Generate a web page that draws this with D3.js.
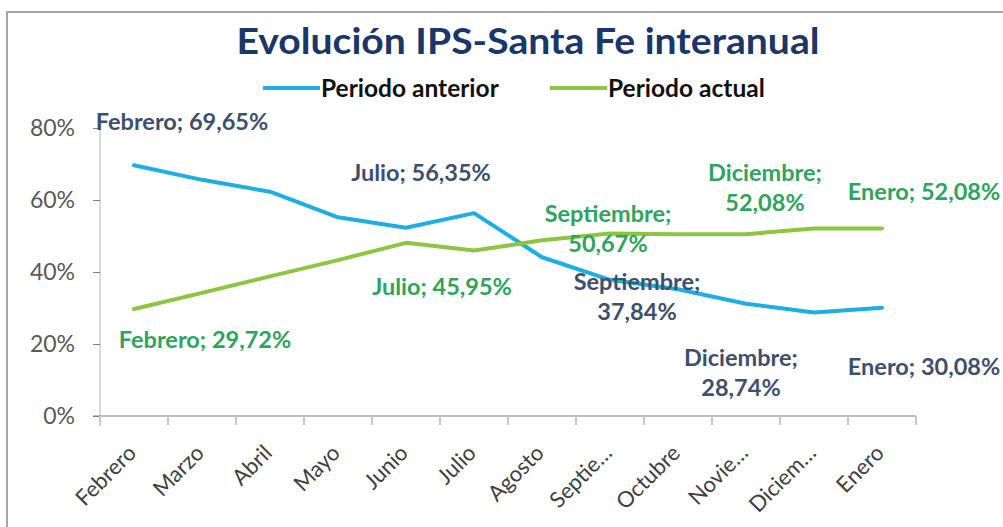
<!DOCTYPE html>
<style>
body { margin: 0; background: #fff; }
text { font-family: Lato, "Open Sans", sans-serif; }
</style>
<svg id="chart" width="1003" height="527"></svg>
<script src="https://d3js.org/d3.v7.min.js"></script>
<script>

var months = ["Febrero", "Marzo", "Abril", "Mayo", "Junio", "Julio", "Agosto", "Septiembre", "Octubre", "Noviembre", "Diciembre", "Enero"];
var tickNames = ["Febrero", "Marzo", "Abril", "Mayo", "Junio", "Julio", "Agosto", "Septie…", "Octubre", "Novie…", "Diciem…", "Enero"];
var anterior = [69.65, 65.6, 62.3, 55.2, 52.3, 56.35, 44.1, 37.84, 35.2, 31.2, 28.74, 30.08];
var actual = [29.72, 34.2, 38.8, 43.3, 48.1, 45.95, 48.8, 50.67, 50.5, 50.5, 52.08, 52.08];
var yTicks = [0, 20, 40, 60, 80];
var seriesNames = ["Periodo anterior", "Periodo actual"];
// which points carry a data label
var labelled = ["Febrero", "Julio", "Septiembre", "Diciembre", "Enero"];

var svg = d3.select("#chart");
var margin = {left: 100, top: 128, right: 87, bottom: 111};
var width = 1003 - margin.left - margin.right;
var height = 527 - margin.top - margin.bottom;

// chart border
svg.append("rect")
  .attr("x", 7).attr("y", 12)
  .attr("width", 1010).attr("height", 540)
  .attr("fill", "none")
  .attr("stroke", "#a6a6a6")
  .attr("stroke-width", 2);

svg.append("text")
  .attr("x", 528).attr("y", 54)
  .attr("text-anchor", "middle")
  .attr("font-size", 36)
  .attr("font-weight", "bold")
  .attr("fill", "#1b3668")
  .attr("textLength", 583)
  .attr("lengthAdjust", "spacingAndGlyphs")
  .text("Evolución IPS-Santa Fe interanual");

var g = svg.append("g").attr("transform", "translate(" + margin.left + "," + margin.top + ")");

var x = d3.scaleBand().domain(months).range([0, width]);
var y = d3.scaleLinear().domain([0, 80]).range([height, 0]);
var colors = ["#1eaee6", "#8cc641"];
var labelColors = ["#3e4f6e", "#2ea45c"];

// legend
var legendX = [263, 550];
var legend = svg.append("g").selectAll("g")
  .data(seriesNames).enter().append("g")
  .attr("transform", function(d, i) { return "translate(" + legendX[i] + ",88)"; });
legend.append("line")
  .attr("x1", 0).attr("x2", 57)
  .attr("stroke", function(d, i) { return colors[i]; })
  .attr("stroke-width", 4);
legend.append("text")
  .attr("x", 58).attr("dy", "0.36em")
  .attr("font-size", 24.5)
  .attr("font-weight", "bold")
  .attr("fill", "#111")
  .text(function(d) { return d; });

// y axis
var yAxis = g.append("g")
  .call(d3.axisLeft(y).tickValues(yTicks).tickSize(7).tickPadding(18).tickFormat(function(d) { return d + "%"; }));
yAxis.select(".domain").attr("stroke", "#d9d9d9").attr("stroke-width", 2).attr("d", "M0,0V" + (height + 10));
yAxis.selectAll(".tick line").attr("stroke", "#7f7f7f");
yAxis.selectAll(".tick text").attr("font-size", 23).attr("fill", "#595959").style("font-family", "Lato, sans-serif");

// x axis
var xAxis = g.append("g")
  .attr("transform", "translate(0," + height + ")")
  .call(d3.axisBottom(x).tickSize(0).tickFormat(function(d, i) { return tickNames[i]; }));
xAxis.select(".domain").attr("stroke", "#7f7f7f").attr("d", "M-7,0H" + width);
xAxis.selectAll(".tick text")
  .attr("font-size", 22)
  .attr("fill", "#404040")
  .style("font-family", "Lato, sans-serif")
  .attr("text-anchor", "end")
  .attr("y", 0).attr("dy", "0.35em")
  .attr("transform", "translate(-2,33) rotate(-45)");
// tick marks between categories
g.append("g").selectAll("line")
  .data(months.concat(["end"])).enter().append("line")
  .attr("x1", function(d, i) { return i * x.step(); })
  .attr("x2", function(d, i) { return i * x.step(); })
  .attr("y1", height).attr("y2", height + 9)
  .attr("stroke", "#c8c8c8")
  .attr("stroke-width", 2);

var line = d3.line()
  .x(function(d, i) { return x(months[i]) + x.bandwidth() / 2; })
  .y(function(d) { return y(d); });

[anterior, actual].forEach(function(s, k) {
  g.append("path")
    .datum(s)
    .attr("fill", "none")
    .attr("stroke", colors[k])
    .attr("stroke-width", 4)
    .attr("stroke-linejoin", "round")
    .attr("stroke-linecap", "round")
    .attr("d", line);
});

// label offsets from the data point: [dx, dy of first line]
var offsets = [
  {Febrero: [48, -35], Julio: [-53, -32], Septiembre: [27, 10], Diciembre: [-73, 53], Enero: [42, 67]},
  {Febrero: [71, 39], Julio: [-32, 44], Septiembre: [-2, -12], Diciembre: [-49, -48], Enero: [42, -29]}
];
var twoLine = ["Septiembre", "Diciembre"];

[anterior, actual].forEach(function(s, k) {
  labelled.forEach(function(m) {
    var i = months.indexOf(m);
    var px = x(m) + x.bandwidth() / 2;
    var py = y(s[i]);
    var o = offsets[k][m];
    var val = s[i].toFixed(2).replace(".", ",") + "%";
    var t = g.append("text")
      .attr("x", px + o[0]).attr("y", py + o[1])
      .attr("text-anchor", "middle")
      .attr("font-size", 23.5)
      .attr("font-weight", "bold")
      .attr("fill", labelColors[k]);
    if (twoLine.indexOf(m) >= 0) {
      t.append("tspan").attr("x", px + o[0]).text(m + ";");
      t.append("tspan").attr("x", px + o[0]).attr("dy", 30).text(val);
    } else {
      t.text(m + "; " + val);
    }
  });
});

</script>
